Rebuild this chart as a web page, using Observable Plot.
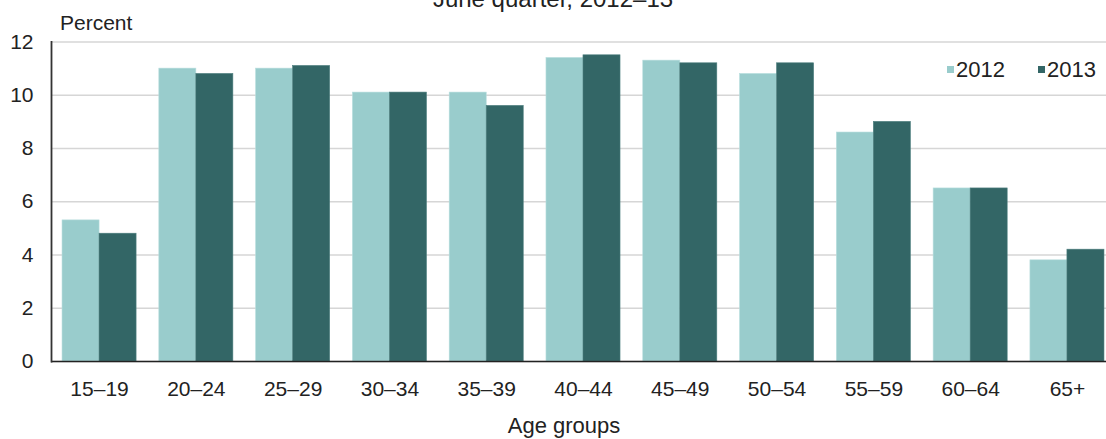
<!DOCTYPE html>
<html>
<head>
<meta charset="utf-8">
<script src="https://cdn.jsdelivr.net/npm/d3@7"></script>
<script src="https://cdn.jsdelivr.net/npm/@observablehq/plot@0.6"></script>
<style>
  html, body { margin: 0; padding: 0; background: #fff; overflow: hidden; }
  #wrap { position: relative; width: 1106px; height: 439px; overflow: hidden; font-family: "Liberation Sans", Arial, sans-serif; color: #222; }
  #wrap div { line-height: 1; white-space: nowrap; }
  #title { position: absolute; top: -13px; left: 0; width: 1106px; text-align: center; font-size: 24px; }
  #ylab { position: absolute; top: 12px; left: 60px; font-size: 21px; }
  #xlab { position: absolute; top: 415px; left: 364px; width: 400px; text-align: center; font-size: 22px; }
  .leg { position: absolute; font-size: 22px; top: 59px; }
  .sw { position: absolute; width: 7px; height: 7px; top: 66px; }
  #chart { position: absolute; left: 0; top: 0; }
  #chart svg { max-width: none !important; }
</style>
</head>
<body>
<div id="wrap">
  <div id="chart"></div>
  <div id="title">June quarter, 2012–13</div>
  <div id="ylab">Percent</div>
  <div id="xlab">Age groups</div>
  <div id="legend"></div>
</div>
<script>
const ages = ["15–19","20–24","25–29","30–34","35–39","40–44","45–49","50–54","55–59","60–64","65+"];
const years = ["2012","2013"];
const values2012 = [5.3, 11.0, 11.0, 10.1, 10.1, 11.4, 11.3, 10.8, 8.6, 6.5, 3.8];
const values2013 = [4.8, 10.8, 11.1, 10.1, 9.6, 11.5, 11.2, 11.2, 9.0, 6.5, 4.2];
const yTicks = [0, 2, 4, 6, 8, 10, 12];
const colors = ["#99cccc", "#336666"];

const rows2012 = ages.map((a, i) => ({age: a, year: years[0], value: values2012[i]}));
const rows2013 = ages.map((a, i) => ({age: a, year: years[1], value: values2013[i]}));

const half = 37;
const chart = Plot.plot({
  width: 1115,
  height: 439,
  marginLeft: 51,
  marginRight: 0,
  marginTop: 41.5,
  marginBottom: 78,
  style: {fontFamily: "'Liberation Sans', Arial, sans-serif", fontSize: "21px", color: "#222", background: "#fff", maxWidth: "none"},
  x: {type: "band", domain: ages, paddingInner: 0.235, paddingOuter: 0.114, round: false, label: null},
  y: {domain: [0, 12], label: null},
  marks: [
    Plot.gridY(yTicks, {stroke: "#d6d6d6", strokeOpacity: 1, strokeWidth: 1.6}),
    Plot.barY(rows2012, {x: "age", y: "value", fill: colors[0], insetRight: half, insetLeft: 0, stroke: "#b8dede", strokeWidth: 0.6}),
    Plot.barY(rows2013, {x: "age", y: "value", fill: colors[1], insetLeft: half, insetRight: 0, stroke: "#4d7f7f", strokeWidth: 0.6}),
    Plot.ruleY([0], {stroke: "#222", strokeWidth: 1.6}),
    Plot.frame({anchor: "left", stroke: "#333", strokeWidth: 1.8}),
    Plot.axisY(yTicks, {tickSize: 0, tickPadding: 18, label: null, fontSize: 21}),
    Plot.axisX({tickSize: 0, tickPadding: 20, label: null, fontSize: 21})
  ]
});
document.getElementById("chart").appendChild(chart);

const legend = document.getElementById("legend");
const swX = [947, 1038];
const txX = [956, 1047];
years.forEach((y, i) => {
  const sw = document.createElement("div");
  sw.className = "sw";
  sw.style.left = swX[i] + "px";
  sw.style.background = colors[i];
  legend.appendChild(sw);
  const t = document.createElement("div");
  t.className = "leg";
  t.style.left = txX[i] + "px";
  t.textContent = y;
  legend.appendChild(t);
});
</script>
</body>
</html>
